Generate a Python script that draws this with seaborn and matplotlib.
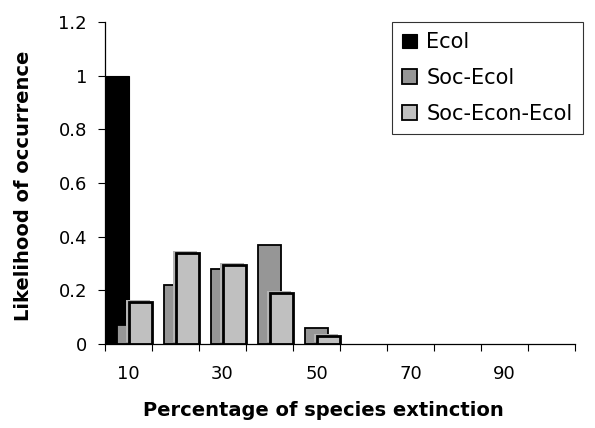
import matplotlib
matplotlib.use("Agg")
import matplotlib.pyplot as plt
import matplotlib.patheffects as pe
import seaborn as sns
import numpy as np
import pandas as pd
from matplotlib.ticker import FixedLocator, FuncFormatter
from matplotlib.patches import Patch

categories = [10, 20, 30, 40, 50, 60, 70, 80, 90, 100]
ecol = [1.0, 0, 0, 0, 0, 0, 0, 0, 0, 0]
soc_ecol = [0.07, 0.22, 0.28, 0.37, 0.06, 0, 0, 0, 0, 0]
soc_econ_ecol = [0.155, 0.338, 0.295, 0.19, 0.03, 0, 0, 0, 0, 0]
series_names = ["Ecol", "Soc-Ecol", "Soc-Econ-Ecol"]
x_tick_labels = [10, 30, 50, 70, 90]
y_ticks = [0, 0.2, 0.4, 0.6, 0.8, 1.0, 1.2]

sns.set_theme(style="white")
plt.rcParams['font.family'] = ['DejaVu Sans']
plt.rcParams['text.color'] = 'black'
plt.rcParams['axes.labelcolor'] = 'black'
plt.rcParams['xtick.color'] = 'black'
plt.rcParams['ytick.color'] = 'black'

fig = plt.figure(figsize=(5.95, 4.28), dpi=100)
ax = fig.add_axes([105/595, 1-344/428, (575-105)/595, (344-22)/428])

colors = ["#000000", "#969696", "#c0c0c0"]
edges = [("#000000", 0.8), ("#000000", 1.3), ("#000000", 2.0)]
offsets = [-2.5, 0.0, 2.5]
data = [ecol, soc_ecol, soc_econ_ecol]

for k, (vals, col, (ec, lw), off) in enumerate(zip(data, colors, edges, offsets)):
    xs = [c + off for c in categories]
    df = pd.DataFrame({"x": xs, "y": vals})
    n_before = len(ax.patches)
    sns.barplot(data=df, x="x", y="y", native_scale=True, color=col,
                saturation=1, width=0.5, edgecolor=ec, linewidth=lw,
                ax=ax, errorbar=None)
    for p in ax.patches[n_before:]:
        if p.get_height() <= 0:
            p.set_visible(False)
        elif k == 2:
            p.set_path_effects([pe.SimplePatchShadow(offset=(-1.5, 1.5),
                                                     shadow_rgbFace="#b4b4b4", alpha=1),
                                pe.Normal()])

ax.set_xlim(5, 105)
ax.set_ylim(0, 1.2)
ax.set_yticks(y_ticks)
ax.yaxis.set_major_formatter(FuncFormatter(lambda v, p: ("%g" % round(v, 2))))
ax.xaxis.set_major_locator(FixedLocator(x_tick_labels))
ax.xaxis.set_major_formatter(FuncFormatter(lambda v, p: "%d" % v))
ax.xaxis.set_minor_locator(FixedLocator([c - 5 for c in categories] + [categories[-1] + 5]))
ax.tick_params(axis="x", which="major", length=0, pad=15, labelsize=13, colors="black")
ax.tick_params(axis="x", which="minor", length=5, width=0.8, color="black", direction="out", bottom=True)
ax.tick_params(axis="y", which="major", length=5, width=0.8, color="black", direction="out", left=True, labelsize=13, pad=8)

for s in ["top", "right"]:
    ax.spines[s].set_visible(False)
for s in ["left", "bottom"]:
    ax.spines[s].set_color("black")
    ax.spines[s].set_linewidth(0.9)

ax.set_xlabel("Percentage of species extinction", fontsize=14, fontweight="bold")
ax.set_ylabel("Likelihood of occurrence", fontsize=14, fontweight="bold")
ax.xaxis.set_label_coords((323-105)/470, -(401-344)/322)
ax.yaxis.set_label_coords(-(105-33)/470, (344-186)/322)

handles = [Patch(facecolor=colors[0], edgecolor="black", linewidth=0.8),
           Patch(facecolor=colors[1], edgecolor="black", linewidth=1.3),
           Patch(facecolor=colors[2], edgecolor="black", linewidth=1.3)]
leg = fig.legend(handles, series_names, loc="upper right",
                 bbox_to_anchor=(583/595, 1-22/428),
                 prop={"size": 15},
                 frameon=True, fancybox=False, handlelength=0.7, handleheight=0.7,
                 labelspacing=0.75, borderpad=0.5, handletextpad=0.45, borderaxespad=0)
leg.get_frame().set_edgecolor("black")
leg.get_frame().set_linewidth(0.8)

fig.savefig("out.png", dpi=100)
